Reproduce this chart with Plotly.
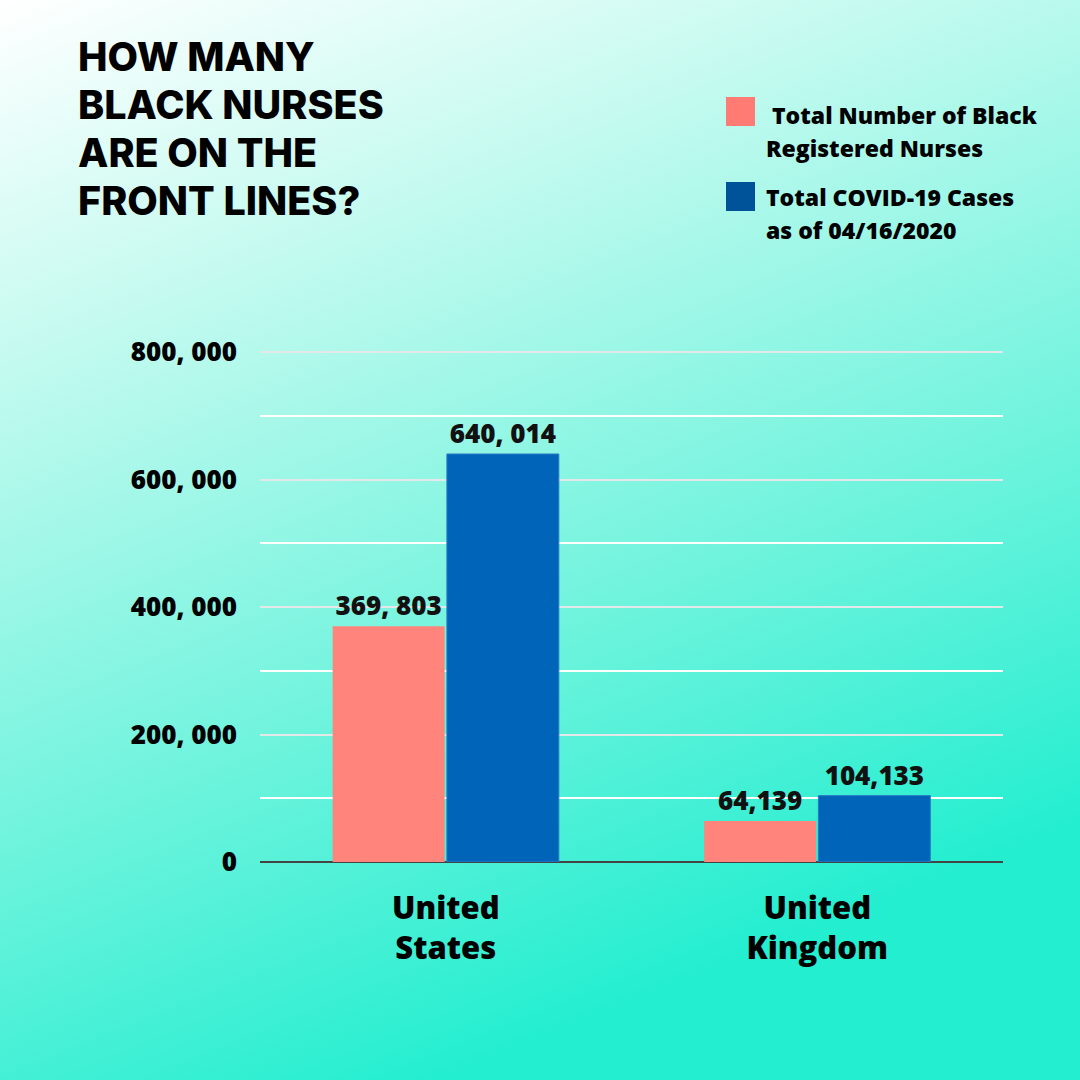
import base64
import plotly.graph_objects as go

categories = ["United<br>States", "United<br>Kingdom"]
nurses = [369803, 64139]
covid = [640014, 104133]
nurses_labels = ["369, 803", "64,139"]
covid_labels = ["640, 014", "104,133"]
major_tick_vals = [0, 200000, 400000, 600000, 800000]
major_tick_text = ["0", "200, 000", "400, 000", "600, 000", "800, 000"]
minor_tick_vals = [100000, 300000, 500000, 700000]
title_lines = ["HOW MANY", "BLACK NURSES", "ARE ON THE", "FRONT LINES?"]
legend1_lines = [" Total Number of Black", "Registered Nurses"]
legend2_lines = ["Total COVID-19 Cases", "as of 04/16/2020"]

PINK = "#ff847b"
BLUE = "#0065b9"
FONT = "Open Sans"

# plot area in pixels (a few px of headroom above the 800,000 gridline)
Y_TOP = 806275
PL, PR, PT, PB = 260, 1003, 348, 862
PW, PH = PR - PL, PB - PT


def px(x):
    return (x - PL) / PW


def py(y):
    return (PB - y) / PH


svg = """<svg xmlns='http://www.w3.org/2000/svg' width='1080' height='1080' viewBox='0 0 1080 1080' preserveAspectRatio='none'>
<defs><linearGradient id='g' x1='0' y1='0' x2='0.4' y2='1'>
<stop offset='0' stop-color='#ffffff'/>
<stop offset='0.3' stop-color='#c2faef'/>
<stop offset='0.7' stop-color='#6af3dc'/>
<stop offset='1' stop-color='#24eed0'/>
</linearGradient></defs>
<rect width='1080' height='1080' fill='url(#g)'/></svg>"""
bg_uri = "data:image/svg+xml;base64," + base64.b64encode(svg.encode()).decode()

fig = go.Figure()
fig.add_trace(go.Bar(
    x=categories, y=nurses, name="Total Number of Black Registered Nurses",
    marker=dict(color=PINK, line=dict(width=0)),
    text=nurses_labels, textposition="outside", cliponaxis=False,
    textfont=dict(family=FONT, size=26, color="#111111", weight=800),
))
fig.add_trace(go.Bar(
    x=categories, y=covid, name="Total COVID-19 Cases as of 04/16/2020",
    marker=dict(color=BLUE, line=dict(width=1, color="#2a7cc4")),
    text=covid_labels, textposition="outside", cliponaxis=False,
    textfont=dict(family=FONT, size=26, color="#111111", weight=800),
))

annotations = []
for i, line in enumerate(title_lines):
    annotations.append(dict(
        text=line, x=px(76), y=py(57 + 48 * i), xref="paper", yref="paper",
        xanchor="left", yanchor="middle", showarrow=False,
        font=dict(family="Inter", size=39.5, color="#000000", weight=800),
    ))
for i, line in enumerate(legend1_lines):
    annotations.append(dict(
        text=line, x=px(764), y=py(115 + 33 * i), xref="paper", yref="paper",
        xanchor="left", yanchor="middle", showarrow=False,
        font=dict(family=FONT, size=23, color="#000000", weight=800),
    ))
for i, line in enumerate(legend2_lines):
    annotations.append(dict(
        text=line, x=px(764), y=py(197 + 33 * i), xref="paper", yref="paper",
        xanchor="left", yanchor="middle", showarrow=False,
        font=dict(family=FONT, size=23, color="#000000", weight=800),
    ))

shapes = [
    dict(type="rect", xref="paper", yref="paper", x0=px(726), x1=px(755),
         y0=py(126), y1=py(97), fillcolor="#ff7b73", line=dict(width=0)),
    dict(type="rect", xref="paper", yref="paper", x0=px(726), x1=px(755),
         y0=py(211), y1=py(182), fillcolor="#005299", line=dict(width=0)),
]

fig.update_layout(
    width=1080, height=1080,
    margin=dict(l=PL, r=1080 - PR, t=PT, b=1080 - PB),
    paper_bgcolor="#8ff5e2", plot_bgcolor="rgba(0,0,0,0)",
    showlegend=False,
    barmode="group", bargap=0.385, bargroupgap=0.02,
    images=[dict(source=bg_uri, xref="paper", yref="paper", x=px(0), y=py(0),
                 sizex=1080 / PW, sizey=1080 / PH, xanchor="left", yanchor="top",
                 sizing="stretch", layer="below")],
    annotations=annotations, shapes=shapes,
    xaxis=dict(showgrid=False, showline=False, ticks="",
               tickfont=dict(family=FONT, size=31, color="#000000", weight=800),
               ticklabelstandoff=25),
    yaxis=dict(range=[0, Y_TOP], tickvals=major_tick_vals, ticktext=major_tick_text,
               showgrid=True, gridcolor="#e4e8e8", gridwidth=2,
               minor=dict(tickvals=minor_tick_vals, showgrid=True,
                          gridcolor="#ffffff", gridwidth=2, ticks=""),
               zeroline=True, zerolinecolor="#444444", zerolinewidth=2,
               showline=False, ticks="", ticklabelstandoff=22,
               tickfont=dict(family=FONT, size=26, color="#000000", weight=800)),
)

fig.write_html("out.html")
